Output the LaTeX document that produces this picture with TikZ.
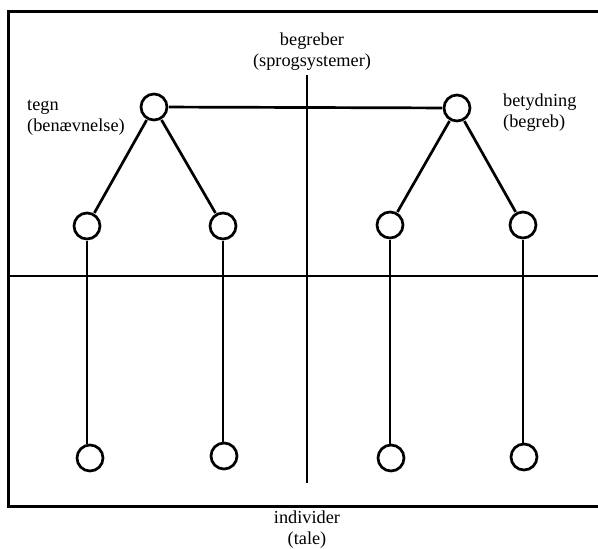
\documentclass[tikz,border=0pt]{standalone}
\usepackage{fontspec}
\setmainfont{Liberation Serif}
\begin{document}
\begin{tikzpicture}[x=1pt,y=-1pt,
  dot/.style={circle,draw,line width=2.7pt,minimum size=26pt,inner sep=0pt,outer sep=2pt},
  lbl/.style={font=\fontsize{18.3}{21}\selectfont,inner sep=0pt},
  conn/.style={line width=2.7pt},
  boxline/.style={line width=3pt}]
\useasboundingbox (0,0) rectangle (598,549);
% frame and axes
\coordinate (ftr) at (598,11);
\coordinate (ftl) at (8,11);
\coordinate (fbl) at (8,506);
\coordinate (fbr) at (598,506);
\draw[boxline] (ftr) -- (ftl) -- (fbl) -- (fbr);
\coordinate (hl) at (8,276);
\coordinate (hr) at (598,276);
\draw[conn] (hl) -- (hr);
\coordinate (vt) at (307,75);
\coordinate (vb) at (307,483);
\draw[conn] (vt) -- (vb);
% nodes
\node[dot] (t) at (154,107) {};
\node[dot] (b) at (457,108) {};
\node[dot] (m1) at (87,226) {};
\node[dot] (m2) at (223,226) {};
\node[dot] (m3) at (390,225) {};
\node[dot] (m4) at (523,225) {};
\node[dot,outer sep=1pt] (b1) at (90,458) {};
\node[dot,outer sep=1pt] (b2) at (224,456) {};
\node[dot,outer sep=1pt] (b3) at (391,458) {};
\node[dot,outer sep=1pt] (b4) at (524,457) {};
% connectors
\draw[conn] (t) -- (b);
\draw[conn] (t) -- (m1);
\draw[conn] (t) -- (m2);
\draw[conn] (b) -- (m3);
\draw[conn] (b) -- (m4);
\draw[conn] (m1.south) -- (m1.south |- b1.north);
\draw[conn] (m2.south) -- (m2.south |- b2.north);
\draw[conn] (m3.south) -- (m3.south |- b3.north);
\draw[conn] (m4.south) -- (m4.south |- b4.north);
% labels
\node[lbl,anchor=west,align=left] (lt) at (27,118) {tegn\\(benævnelse)};
\node[lbl,align=center] (lc) at (312,52) {begreber\\(sprogsystemer)};
\node[lbl,anchor=west,align=left] (lb) at (503,113) {betydning\\(begreb)};
\node[lbl,align=center] (li) at (307,530) {individer\\(tale)};
\end{tikzpicture}
\end{document}
